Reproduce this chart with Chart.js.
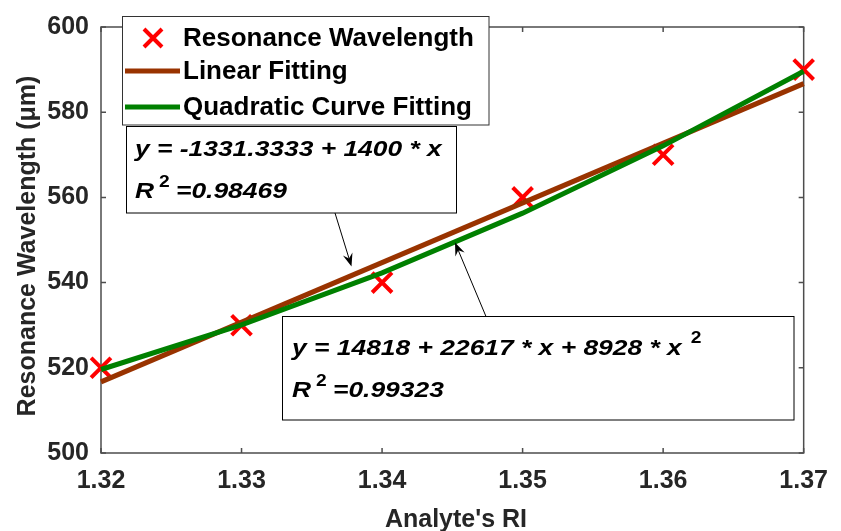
<!DOCTYPE html>
<html>
<head>
<meta charset="utf-8">
<script src="https://cdn.jsdelivr.net/npm/chart.js@4.4.1/dist/chart.umd.min.js"></script>
<style>
  body { margin: 0; background: #fff; }
  #wrap { width: 841px; height: 531px; }
</style>
</head>
<body>
<div id="wrap"><canvas id="riChart" width="841" height="531"></canvas></div>
<script>
// Analyte RI vs resonance wavelength
const riValues = [1.32, 1.33, 1.34, 1.35, 1.36, 1.37];
const resonanceWl = [520, 530, 540, 560, 570, 590];

// fitted curves
const linearFitRi = [1.32, 1.37];
const linearFitWl = [516.7, 586.7];
const quadFitWl = [519.6, 530.1, 542.3, 556.3, 572.1, 589.6];

// axis ticks
const xTicks = [1.32, 1.33, 1.34, 1.35, 1.36, 1.37];
const yTicks = [500, 520, 540, 560, 580, 600];

const legendLabels = ['Resonance Wavelength', 'Linear Fitting', 'Quadratic Curve Fitting'];
const linearEq = 'y = -1331.3333 + 1400 * x';
const linearR2 = '=0.98469';
const quadEq = 'y = 14818 + 22617 * x + 8928 * x';
const quadR2 = '=0.99323';

const RED = '#ff0000';
const BROWN = '#993300';
const GREEN = '#008000';
const SANS = '"Liberation Sans", Arial, sans-serif';
const EQ_FONT = 'italic bold 22px ' + SANS;
const EQ_STRETCH = 1.2; // equation text is wide in the original

function drawArrow(ctx, x0, y0, x1, y1) {
    const ang = Math.atan2(y1 - y0, x1 - x0);
    const len = 13, half = 5;
    ctx.beginPath();
    ctx.moveTo(x0, y0);
    ctx.lineTo(x1 - Math.cos(ang) * len * 0.6, y1 - Math.sin(ang) * len * 0.6);
    ctx.stroke();
    ctx.save();
    ctx.translate(x1, y1);
    ctx.rotate(ang);
    ctx.beginPath();
    ctx.moveTo(0, 0);
    ctx.lineTo(-len, -half);
    ctx.lineTo(-len * 0.65, 0);
    ctx.lineTo(-len, half);
    ctx.closePath();
    ctx.fill();
    ctx.restore();
}

function wideText(ctx, t, x, y) {
    ctx.save();
    ctx.translate(x, y);
    ctx.scale(EQ_STRETCH, 1);
    ctx.fillText(t, 0, 0);
    const w = ctx.measureText(t).width * EQ_STRETCH;
    ctx.restore();
    return w;
}

// text box with an equation line and an R^2 line
function drawEqBox(ctx, box, eq, r2, sup) {
    ctx.fillStyle = '#fff';
    ctx.fillRect(box.x, box.y, box.w, box.h);
    ctx.strokeStyle = '#000';
    ctx.lineWidth = 1;
    ctx.strokeRect(box.x, box.y, box.w, box.h);
    ctx.fillStyle = '#000';
    ctx.textAlign = 'left';
    ctx.textBaseline = 'alphabetic';
    ctx.font = EQ_FONT;
    const w = wideText(ctx, eq, box.tx, box.b1);
    if (sup) {
        ctx.font = 'bold 16px ' + SANS;
        wideText(ctx, '2', box.tx + w + 9, box.b1 - 12);
        ctx.font = EQ_FONT;
    }
    wideText(ctx, 'R', box.tx, box.b2);
    wideText(ctx, r2, box.tx + 41, box.b2);
    ctx.font = 'bold 16px ' + SANS;
    wideText(ctx, '2', box.tx + 24, box.b2 - 11);
}

const decorPlugin = {
    id: 'decor',
    beforeDatasetsDraw(chart) {
        const ctx = chart.ctx;
        const a = chart.chartArea;
        const xs = chart.scales.x, ys = chart.scales.y;
        ctx.save();
        ctx.strokeStyle = '#4d4d4d';
        ctx.lineWidth = 1.5;
        ctx.strokeRect(a.left, a.top, a.right - a.left, a.bottom - a.top);
        ctx.beginPath();
        xTicks.forEach(v => {
            const px = xs.getPixelForValue(v);
            ctx.moveTo(px, a.bottom); ctx.lineTo(px, a.bottom - 5);
            ctx.moveTo(px, a.top); ctx.lineTo(px, a.top + 5);
        });
        yTicks.forEach(v => {
            const py = ys.getPixelForValue(v);
            ctx.moveTo(a.left, py); ctx.lineTo(a.left + 5, py);
            ctx.moveTo(a.right, py); ctx.lineTo(a.right - 5, py);
        });
        ctx.stroke();
        ctx.restore();
    },
    afterDraw(chart) {
        const ctx = chart.ctx;
        ctx.save();

        // axis titles
        ctx.fillStyle = '#262626';
        ctx.font = 'bold 25px ' + SANS;
        ctx.textAlign = 'center';
        ctx.textBaseline = 'alphabetic';
        ctx.fillText("Analyte's RI", 456, 527);
        ctx.save();
        ctx.translate(35, 246);
        ctx.rotate(-Math.PI / 2);
        ctx.fillText('Resonance Wavelength (\u03bcm)', 0, 0);
        ctx.restore();

        // legend
        ctx.fillStyle = '#fff';
        ctx.fillRect(122.5, 16.5, 366.5, 108.5);
        ctx.strokeStyle = '#333';
        ctx.lineWidth = 1;
        ctx.strokeRect(122.5, 16.5, 366.5, 108.5);
        const rows = [38, 71, 107];
        ctx.strokeStyle = RED;
        ctx.lineWidth = 4;
        ctx.beginPath();
        ctx.moveTo(144, rows[0] - 9); ctx.lineTo(162, rows[0] + 9);
        ctx.moveTo(162, rows[0] - 9); ctx.lineTo(144, rows[0] + 9);
        ctx.stroke();
        [BROWN, GREEN].forEach((c, i) => {
            ctx.strokeStyle = c;
            ctx.lineWidth = 5;
            ctx.beginPath();
            ctx.moveTo(125, rows[i + 1]); ctx.lineTo(180, rows[i + 1]);
            ctx.stroke();
        });
        ctx.fillStyle = '#000';
        ctx.font = 'bold 26px ' + SANS;
        ctx.textAlign = 'left';
        ctx.textBaseline = 'middle';
        legendLabels.forEach((t, i) => ctx.fillText(t, 183, rows[i] + 1));

        // fit annotations
        drawEqBox(ctx, { x: 126.5, y: 126.5, w: 330, h: 86.5, tx: 135, b1: 156, b2: 198 }, linearEq, linearR2, false);
        drawEqBox(ctx, { x: 282.5, y: 316.5, w: 511.5, h: 103.5, tx: 292, b1: 355, b2: 396.5 }, quadEq, quadR2, true);
        ctx.strokeStyle = '#000';
        ctx.fillStyle = '#000';
        ctx.lineWidth = 1;
        drawArrow(ctx, 335, 213, 351.5, 266.5);
        drawArrow(ctx, 486, 316.5, 455, 242.5);

        ctx.restore();
    }
};

const ctx = document.getElementById('riChart').getContext('2d');
window.myChart = new Chart(ctx, {
    type: 'scatter',
    data: {
        datasets: [
            {
                label: legendLabels[2],
                data: riValues.map((x, i) => ({ x: x, y: quadFitWl[i] })),
                showLine: true,
                borderColor: GREEN,
                borderWidth: 5,
                pointRadius: 0,
                clip: false,
                order: 0
            },
            {
                label: legendLabels[1],
                data: linearFitRi.map((x, i) => ({ x: x, y: linearFitWl[i] })),
                showLine: true,
                borderColor: BROWN,
                borderWidth: 5,
                pointRadius: 0,
                clip: false,
                order: 1
            },
            {
                label: legendLabels[0],
                data: riValues.map((x, i) => ({ x: x, y: resonanceWl[i] })),
                showLine: false,
                pointStyle: 'crossRot',
                pointRadius: 14,
                pointBorderWidth: 4,
                pointBorderColor: RED,
                pointBackgroundColor: RED,
                clip: false,
                order: 2
            }
        ]
    },
    options: {
        responsive: false,
        animation: false,
        layout: { padding: { left: 0, right: 30, top: 16, bottom: 0 } },
        plugins: {
            legend: { display: false },
            tooltip: { enabled: false }
        },
        scales: {
            x: {
                type: 'linear',
                min: 1.32,
                max: 1.37,
                afterBuildTicks: s => { s.ticks = xTicks.map(v => ({ value: v })); },
                afterFit: s => { s.height = 78; },
                grid: { display: false, drawTicks: false },
                border: { display: false },
                ticks: {
                    padding: 13,
                    color: '#262626',
                    maxRotation: 0,
                    autoSkip: false,
                    font: { family: SANS, size: 25, weight: 'bold' },
                    callback: v => Number(v).toFixed(2)
                }
            },
            y: {
                type: 'linear',
                min: 500,
                max: 600,
                afterBuildTicks: s => { s.ticks = yTicks.map(v => ({ value: v })); },
                afterFit: s => { s.width = 101; },
                grid: { display: false, drawTicks: false },
                border: { display: false },
                ticks: {
                    padding: 12,
                    color: '#262626',
                    autoSkip: false,
                    font: { family: SANS, size: 25, weight: 'bold' },
                    callback: v => String(v)
                }
            }
        }
    },
    plugins: [decorPlugin]
});
</script>
</body>
</html>
